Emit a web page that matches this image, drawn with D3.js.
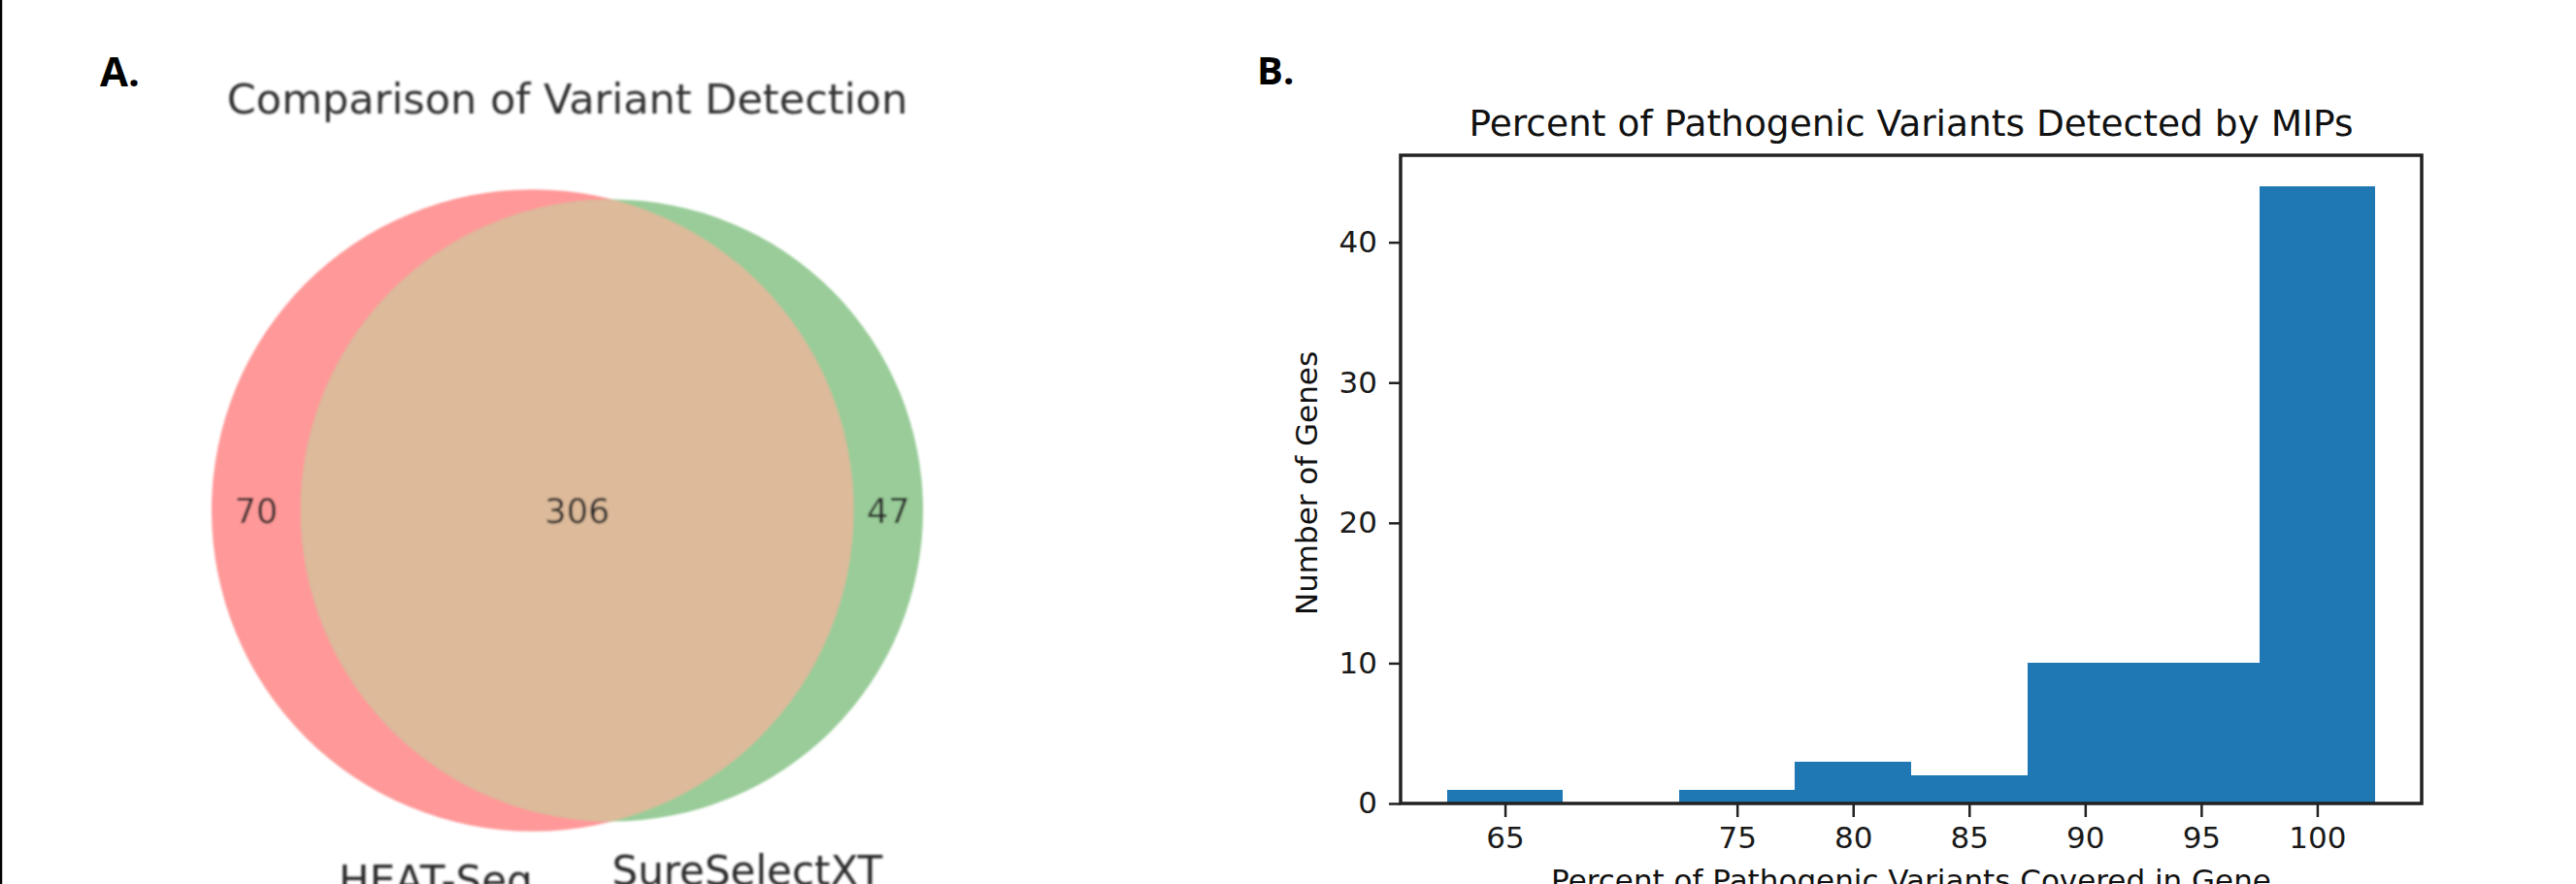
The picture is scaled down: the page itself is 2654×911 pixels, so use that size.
<!DOCTYPE html>
<html>
<head>
<meta charset="utf-8">
<script src="https://cdn.jsdelivr.net/npm/d3@7"></script>
<style>
  body { margin: 0; background: #fff; }
  svg { display: block; }
  text { font-family: "DejaVu Sans", sans-serif; }
</style>
</head>
<body>
<div id="chart"></div>
<script>
// Panel A: Venn counts
const vennSetNames = ['HEAT-Seq', 'SureSelectXT'];
const vennRegions = ['10', '11', '01'];          // A only, both, B only
const vennCounts = [70, 306, 47];
const vennColors = ['#ff9999', '#dcba9a', '#99cc99'];

// Panel B: bars
const binCenters = [65, 75, 80, 85, 90, 95, 100];
const geneCounts = [1, 1, 3, 2, 10, 10, 44];
const xTickValues = [65, 75, 80, 85, 90, 95, 100];
const yTickValues = [0, 10, 20, 30, 40];
const binWidth = 5;

const W = 2654, H = 911;

const svg = d3.select('#chart').append('svg')
  .attr('width', W)
  .attr('height', H);

svg.append('rect').attr('width', W).attr('height', H).attr('fill', '#fff');

// left page border
svg.append('line')
  .attr('x1', 1).attr('x2', 1).attr('y1', 0).attr('y2', H)
  .attr('stroke', '#000').attr('stroke-width', 2.5);

const defs = svg.append('defs');
defs.append('filter').attr('id', 'soft')
  .attr('x', '-5%').attr('y', '-5%').attr('width', '110%').attr('height', '110%')
  .append('feGaussianBlur').attr('stdDeviation', 1.1);

// ---------- Panel A : Venn ----------
const sizeA = vennCounts[0] + vennCounts[1];
const sizeB = vennCounts[2] + vennCounts[1];
const rA = Math.sqrt(sizeA / Math.PI);
const rB = Math.sqrt(sizeB / Math.PI);

function lensArea(r1, r2, d) {
  if (d >= r1 + r2) return 0;
  if (d <= Math.abs(r1 - r2)) return Math.PI * Math.min(r1, r2) ** 2;
  const a1 = Math.acos((d * d + r1 * r1 - r2 * r2) / (2 * d * r1));
  const a2 = Math.acos((d * d + r2 * r2 - r1 * r1) / (2 * d * r2));
  const k = Math.sqrt((-d + r1 + r2) * (d + r1 - r2) * (d - r1 + r2) * (d + r1 + r2));
  return r1 * r1 * a1 + r2 * r2 * a2 - 0.5 * k;
}

// bisection on centre distance so the lens holds the shared count
let lo = Math.abs(rA - rB), hi = rA + rB;
for (let i = 0; i < 80; i++) {
  const mid = (lo + hi) / 2;
  if (lensArea(rA, rB, mid) > vennCounts[1]) lo = mid; else hi = mid;
}
const dist = (lo + hi) / 2;
const cxA = 0, cxB = dist;

// venn units -> pixels
const vx = d3.scaleLinear().domain([cxA - rA, cxB + rB]).range([218, 951]);
const unit = vx(1) - vx(0);
const vyc = 526;

const gA = svg.append('g');
const gSoft = gA.append('g').attr('filter', 'url(#soft)');

defs.append('clipPath').attr('id', 'clipA')
  .append('circle').attr('cx', vx(cxA)).attr('cy', vyc).attr('r', rA * unit);

gSoft.append('circle')
  .attr('cx', vx(cxA)).attr('cy', vyc).attr('r', rA * unit)
  .attr('fill', vennColors[0]);
gSoft.append('circle')
  .attr('cx', vx(cxB)).attr('cy', vyc).attr('r', rB * unit)
  .attr('fill', vennColors[2]);
gSoft.append('circle')
  .attr('cx', vx(cxB)).attr('cy', vyc).attr('r', rB * unit)
  .attr('fill', vennColors[1])
  .attr('clip-path', 'url(#clipA)');

// region label x positions: middle of each region along the centre line
const labelX = [
  ((cxA - rA) + (cxB - rB)) / 2,
  ((cxB - rB) + (cxA + rA)) / 2,
  ((cxA + rA) + (cxB + rB)) / 2
];
gSoft.selectAll('text.region')
  .data(vennRegions)
  .enter().append('text')
  .attr('class', 'region')
  .attr('x', (d, i) => vx(labelX[i]))
  .attr('y', vyc + 13)
  .attr('text-anchor', 'middle')
  .attr('font-size', 35)
  .attr('fill', '#2a2a2a')
  .text((d, i) => vennCounts[i]);

// set labels under each circle
gSoft.append('text')
  .attr('x', vx(cxA)).attr('y', vyc + rA * unit + 65)
  .attr('text-anchor', 'end')
  .attr('font-size', 42)
  .attr('fill', '#2a2a2a')
  .text(vennSetNames[0]);
gSoft.append('text')
  .attr('x', vx(cxB)).attr('y', vyc + rB * unit + 65)
  .attr('text-anchor', 'start')
  .attr('font-size', 42)
  .attr('fill', '#2a2a2a')
  .text(vennSetNames[1]);

gSoft.append('text')
  .attr('x', (vx(cxA - rA) + vx(cxB + rB)) / 2)
  .attr('y', 117)
  .attr('text-anchor', 'middle')
  .attr('font-size', 43)
  .attr('fill', '#333')
  .text('Comparison of Variant Detection');

gA.append('text')
  .attr('x', 103).attr('y', 89)
  .style('font-family', '"Open Sans", sans-serif')
  .attr('font-weight', 700)
  .attr('font-size', 42)
  .attr('fill', '#000')
  .text('A.');

// ---------- Panel B : bars ----------
const plot = { left: 1443, right: 2495, top: 160, bottom: 828 };
const xMin = d3.min(binCenters) - binWidth / 2;
const xMax = d3.max(binCenters) + binWidth / 2;
const xPad = (xMax - xMin) * 0.05;
const x = d3.scaleLinear()
  .domain([xMin - xPad, xMax + xPad])
  .range([plot.left, plot.right]);
const y = d3.scaleLinear()
  .domain([0, d3.max(geneCounts) * 1.05])
  .range([plot.bottom, plot.top]);

const gB = svg.append('g');

gB.append('g')
  .selectAll('rect')
  .data(binCenters)
  .enter().append('rect')
  .attr('x', d => x(d - binWidth / 2))
  .attr('width', d => x(d + binWidth / 2) - x(d - binWidth / 2))
  .attr('y', (d, i) => y(geneCounts[i]))
  .attr('height', (d, i) => y(0) - y(geneCounts[i]))
  .attr('fill', '#1f77b4')
  .attr('shape-rendering', 'crispEdges');

const xAxis = gB.append('g')
  .attr('transform', `translate(0,${plot.bottom})`)
  .call(d3.axisBottom(x).tickValues(xTickValues).tickSize(14).tickPadding(10).tickFormat(d3.format('d')));
const yAxis = gB.append('g')
  .attr('transform', `translate(${plot.left},0)`)
  .call(d3.axisLeft(y).tickValues(yTickValues).tickSize(12).tickPadding(12).tickFormat(d3.format('d')));

[xAxis, yAxis].forEach(a => {
  a.select('.domain').remove();
  a.selectAll('line').attr('stroke', '#222').attr('stroke-width', 2.5);
  a.selectAll('text')
    .attr('font-size', 31)
    .attr('fill', '#1a1a1a')
    .style('font-family', '"DejaVu Sans", sans-serif');
});

// frame
gB.append('rect')
  .attr('x', plot.left).attr('y', plot.top)
  .attr('width', plot.right - plot.left)
  .attr('height', plot.bottom - plot.top)
  .attr('fill', 'none')
  .attr('stroke', '#222')
  .attr('stroke-width', 3.5);

gB.append('text')
  .attr('x', (plot.left + plot.right) / 2)
  .attr('y', 140)
  .attr('text-anchor', 'middle')
  .attr('font-size', 37.5)
  .attr('fill', '#111')
  .text('Percent of Pathogenic Variants Detected by MIPs');

gB.append('text')
  .attr('x', (plot.left + plot.right) / 2)
  .attr('y', 918)
  .attr('text-anchor', 'middle')
  .attr('font-size', 31)
  .attr('fill', '#111')
  .text('Percent of Pathogenic Variants Covered in Gene');

gB.append('text')
  .attr('transform', `translate(1357,${(plot.top + plot.bottom) / 2 + 4}) rotate(-90)`)
  .attr('text-anchor', 'middle')
  .attr('font-size', 31)
  .attr('fill', '#111')
  .text('Number of Genes');

gB.append('text')
  .attr('x', 1295).attr('y', 87)
  .style('font-family', '"Open Sans", sans-serif')
  .attr('font-weight', 700)
  .attr('font-size', 40)
  .attr('fill', '#000')
  .text('B.');
</script>
</body>
</html>
